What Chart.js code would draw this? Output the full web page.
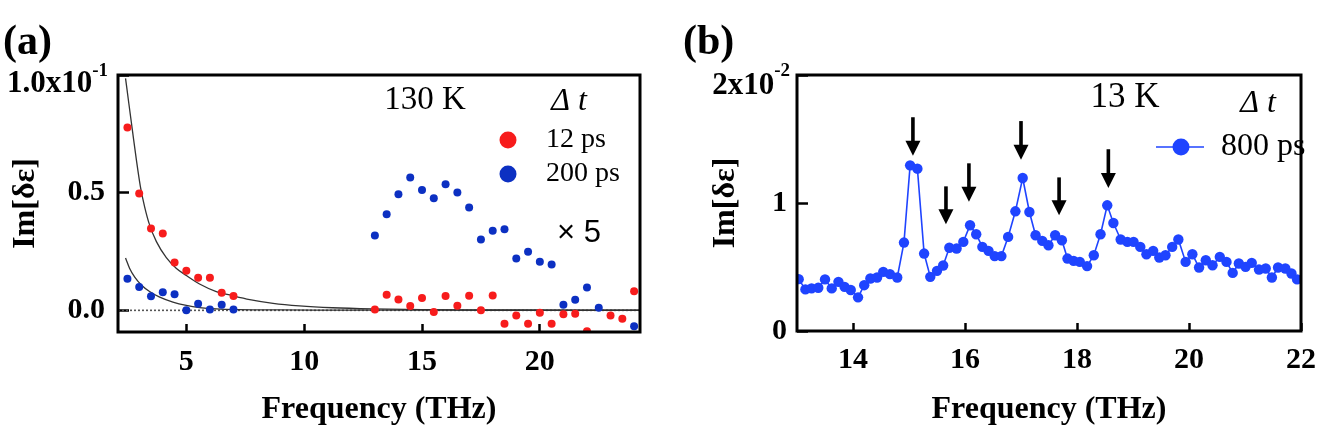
<!DOCTYPE html>
<html>
<head>
<meta charset="utf-8">
<script src="https://cdn.jsdelivr.net/npm/chart.js@4.4.1/dist/chart.umd.min.js"></script>
<style>
html, body { margin: 0; padding: 0; background: #fff; }
#wrap { position: relative; width: 1335px; height: 432px; overflow: hidden; }
.panel { position: absolute; top: 0; height: 432px; }
#pa { left: 0; width: 660px; }
#pb { left: 660px; width: 675px; }
</style>
</head>
<body>
<div id="wrap">
  <div class="panel" id="pa"><canvas id="chartA"></canvas></div>
  <div class="panel" id="pb"><canvas id="chartB"></canvas></div>
</div>
<script>
// ---------- panel (a) : 130 K, units of 1e-1 ----------
const redX = [2.5, 3, 3.5, 4, 4.5, 5, 5.5, 6, 6.5, 7,
  13, 13.5, 14, 14.5, 15, 15.5, 16, 16.5, 17, 17.5, 18, 18.5, 19, 19.5, 20, 20.5, 21, 21.5, 22,
  23, 23.5, 24];
const redY = [0.777, 0.497, 0.348, 0.327, 0.203, 0.168, 0.138, 0.139, 0.075, 0.061,
  0.004, 0.066, 0.046, 0.018, 0.052, -0.007, 0.061, 0.02, 0.062, 0.0, 0.063, -0.057, -0.022, -0.057, -0.01, -0.057, -0.017, -0.014, -0.089,
  -0.022, -0.036, 0.081];

const blueX = [2.5, 3, 3.5, 4, 4.5, 5, 5.5, 6, 6.5, 7,
  13, 13.5, 14, 14.5, 15, 15.5, 16, 16.5, 17, 17.5, 18, 18.5, 19, 19.5, 20, 20.5, 21, 21.5, 22, 22.5,
  24];
const blueY = [0.134, 0.099, 0.060, 0.077, 0.068, 0.0, 0.028, 0.004, 0.024, 0.004,
  0.318, 0.408, 0.493, 0.565, 0.511, 0.476, 0.536, 0.501, 0.437, 0.301, 0.338, 0.345, 0.22, 0.249, 0.206, 0.195, 0.024, 0.045, 0.097, 0.011,
  -0.068];

// fit curves
const fit12X = [2.42, 2.56, 2.71, 2.88, 3.05, 3.23, 3.44, 3.73, 4.15, 4.58, 5.0, 5.56, 6.27, 6.98, 7.69, 8.68, 9.8, 11.2, 12.9, 15, 18, 21, 24.2];
const fit12Y = [0.986, 0.879, 0.766, 0.639, 0.526, 0.44, 0.363, 0.292, 0.224, 0.178, 0.148, 0.112, 0.08, 0.062, 0.046, 0.03, 0.019, 0.011, 0.006, 0.003, 0.002, 0.001, 0.001];
const fit200X = [2.42, 2.59, 2.81, 3.09, 3.44, 3.87, 4.43, 5.0, 5.56, 6.27, 7.2, 8.5, 10.5, 13, 18, 24.2];
const fit200Y = [0.222, 0.179, 0.141, 0.108, 0.08, 0.056, 0.035, 0.021, 0.012, 0.006, 0.003, 0.002, 0.001, 0.001, 0.0005, 0.0005];

const xMinA = 2.1, xMaxA = 24.25;
const yMinA = -0.092, yMaxA = 1.0;
const xTicksA = [5, 10, 15, 20];
const yTicksA = [0, 0.5, 1.0];
const yTickTextA = ['0.0', '0.5', ''];
const topLabelA = ['1.0x10', '-1'];

// ---------- panel (b) : 13 K, units of 1e-2 ----------
const freqB = [13.03, 13.15, 13.26, 13.38, 13.50, 13.62, 13.74, 13.85, 13.96, 14.09,
  14.20, 14.31, 14.43, 14.54, 14.66, 14.79, 14.91, 15.02, 15.15, 15.27,
  15.38, 15.50, 15.61, 15.72, 15.85, 15.97, 16.09, 16.20, 16.31, 16.42,
  16.53, 16.65, 16.77, 16.90, 17.03, 17.15, 17.26, 17.38, 17.49, 17.61,
  17.73, 17.83, 17.94, 18.05, 18.18, 18.30, 18.42, 18.54, 18.65, 18.78,
  18.90, 19.01, 19.13, 19.24, 19.36, 19.47, 19.58, 19.70, 19.81, 19.94,
  20.06, 20.18, 20.30, 20.42, 20.55, 20.67, 20.78, 20.89, 21.01, 21.12,
  21.25, 21.37, 21.48, 21.59, 21.72, 21.83, 21.93];
const im800 = [0.405, 0.325, 0.333, 0.338, 0.403, 0.333, 0.384, 0.345, 0.320, 0.263,
  0.358, 0.410, 0.418, 0.462, 0.444, 0.418, 0.691, 1.294, 1.268, 0.605,
  0.423, 0.470, 0.512, 0.650, 0.644, 0.696, 0.826, 0.756, 0.657, 0.626,
  0.585, 0.585, 0.735, 0.935, 1.195, 0.930, 0.748, 0.704, 0.670, 0.748,
  0.709, 0.566, 0.548, 0.540, 0.507, 0.592, 0.756, 0.982, 0.844, 0.715,
  0.696, 0.696, 0.657, 0.600, 0.626, 0.574, 0.592, 0.657, 0.715, 0.540,
  0.600, 0.496, 0.553, 0.514, 0.579, 0.540, 0.454, 0.527, 0.501, 0.532,
  0.480, 0.488, 0.418, 0.496, 0.488, 0.449, 0.403];

// arrows over the peaks: frequency, top and tip of each arrow
const arrowFreq = [15.07, 15.66, 16.07, 17.0, 17.68, 18.56];
const arrowTop = [1.67, 1.13, 1.31, 1.64, 1.20, 1.42];
const arrowTip = [1.37, 0.834, 1.01, 1.338, 0.904, 1.117];

const xMinB = 13, xMaxB = 22;
const yMinB = 0, yMaxB = 2;
const xTicksB = [14, 16, 18, 20, 22];
const yTicksB = [0, 1, 2];
const yTickTextB = ['0', '1', ''];
const topLabelB = ['2x10', '-2'];

const RED = '#f71c1c';
const BLUE_A = '#0c30c2';
const BLUE_B = '#1f44ff';
const SERIF = '"Liberation Serif", "Times New Roman", serif';

const pts = (xs, ys) => xs.map((x, i) => ({ x: x, y: ys[i] }));

function label(ctx, s, x, y, font, align) {
    ctx.font = font;
    ctx.fillStyle = '#000';
    ctx.textAlign = align || 'left';
    ctx.textBaseline = 'middle';
    ctx.fillText(s, x, y);
}

function dot(ctx, x, y, r, color) {
    ctx.beginPath();
    ctx.arc(x, y, r, 0, Math.PI * 2);
    ctx.fillStyle = color;
    ctx.fill();
}

function arrow(ctx, x, yTop, yTip) {
    const head = 15, hw = 7.5;
    ctx.fillStyle = '#000';
    ctx.fillRect(x - 1.8, yTop, 3.6, yTip - head - yTop + 1);
    ctx.beginPath();
    ctx.moveTo(x - hw, yTip - head);
    ctx.lineTo(x + hw, yTip - head);
    ctx.lineTo(x, yTip);
    ctx.closePath();
    ctx.fill();
}

const frame = {
    id: 'frame',
    afterDraw(chart) {
        const { ctx, chartArea: a } = chart;
        ctx.save();
        ctx.strokeStyle = '#000';
        ctx.lineWidth = 3;
        ctx.strokeRect(a.left, a.top, a.right - a.left, a.bottom - a.top);
        ctx.restore();
    }
};

function axes(xMin, xMax, xTicks, yMin, yMax, yTicks, yText, o) {
    const tickFont = { family: SERIF, size: 30, weight: 'bold' };
    const titleFont = { family: SERIF, size: 32, weight: 'bold' };
    return {
        x: {
            type: 'linear', min: xMin, max: xMax,
            afterBuildTicks: s => { s.ticks = xTicks.map(v => ({ value: v })); },
            afterFit: s => { s.height = o.xh; },
            border: { display: false },
            grid: { drawOnChartArea: false, tickLength: -8, tickWidth: 2.5, tickColor: '#000' },
            ticks: { font: tickFont, color: '#000', padding: o.xpad, maxRotation: 0, autoSkip: false },
            title: { display: true, text: 'Frequency (THz)', font: titleFont, color: '#000', padding: { top: 0, bottom: 3 } }
        },
        y: {
            type: 'linear', min: yMin, max: yMax,
            afterBuildTicks: s => { s.ticks = yTicks.map(v => ({ value: v })); },
            afterFit: s => { s.width = o.yw; },
            border: { display: false },
            grid: { drawOnChartArea: false, tickLength: -11, tickWidth: 2.5, tickColor: '#000' },
            ticks: {
                font: tickFont, color: '#000', padding: o.ypad, autoSkip: false,
                callback: (v, i) => yText[i]
            },
            title: { display: true, text: 'Im[δε]', font: titleFont, color: '#000', padding: { top: o.ytp, bottom: 0 } }
        }
    };
}

// ---------- chart (a) ----------
const notesA = {
    id: 'notesA',
    afterDraw(chart) {
        const ctx = chart.ctx;
        const ty = chart.scales.y.getPixelForValue(yMaxA);
        ctx.save();
        label(ctx, '(a)', 3, 43, 'bold 42px ' + SERIF);
        ctx.font = 'bold 19px ' + SERIF;
        const ew = ctx.measureText(topLabelA[1]).width;
        label(ctx, topLabelA[1], 108, ty - 4, 'bold 19px ' + SERIF, 'right');
        label(ctx, topLabelA[0], 108 - ew, ty + 9, 'bold 31px ' + SERIF, 'right');

        label(ctx, '130 K', 425, 100, '33px ' + SERIF, 'center');
        label(ctx, 'Δ t', 569, 102, 'italic 32px ' + SERIF, 'center');
        dot(ctx, 508, 140, 8.5, RED);
        label(ctx, '12 ps', 546, 140, '28px ' + SERIF);
        dot(ctx, 508, 174, 8.5, BLUE_A);
        label(ctx, '200 ps', 546, 174, '28px ' + SERIF);
        label(ctx, '× 5', 557, 233, '31px "Liberation Sans", Arial, sans-serif');
        ctx.restore();
    }
};

new Chart(document.getElementById('chartA'), {
    type: 'scatter',
    data: {
        datasets: [
            { label: '200 ps', data: pts(blueX, blueY), pointRadius: 4, pointBackgroundColor: BLUE_A, pointBorderWidth: 0 },
            { label: '12 ps', data: pts(redX, redY), pointRadius: 4, pointBackgroundColor: RED, pointBorderWidth: 0 },
            { label: 'fit 12 ps', data: pts(fit12X, fit12Y), showLine: true, pointRadius: 0, borderColor: '#333', borderWidth: 1.3, cubicInterpolationMode: 'monotone' },
            { label: 'fit 200 ps', data: pts(fit200X, fit200Y), showLine: true, pointRadius: 0, borderColor: '#333', borderWidth: 1.3, cubicInterpolationMode: 'monotone' },
            { label: 'zero', data: [{ x: xMinA, y: 0 }, { x: xMaxA, y: 0 }], showLine: true, pointRadius: 0, borderColor: '#555', borderWidth: 1.6, borderDash: [2, 2] }
        ]
    },
    options: {
        responsive: true,
        maintainAspectRatio: false,
        animation: false,
        layout: { padding: { left: 0, top: 75, right: 20, bottom: 0 } },
        plugins: { legend: { display: false }, tooltip: { enabled: false } },
        scales: axes(xMinA, xMaxA, xTicksA, yMinA, yMaxA, yTicksA, yTickTextA,
            { xh: 100, xpad: 20, yw: 118, ypad: 24, ytp: 7 })
    },
    plugins: [frame, notesA]
});

// ---------- chart (b) ----------
const notesB = {
    id: 'notesB',
    afterDraw(chart) {
        const ctx = chart.ctx;
        const xs = chart.scales.x, ys = chart.scales.y;
        const ty = ys.getPixelForValue(yMaxB);
        ctx.save();
        arrowFreq.forEach((f, i) => {
            arrow(ctx, xs.getPixelForValue(f), ys.getPixelForValue(arrowTop[i]), ys.getPixelForValue(arrowTip[i]));
        });
        label(ctx, '(b)', 23, 43, 'bold 42px ' + SERIF);
        ctx.font = 'bold 19px ' + SERIF;
        const ew = ctx.measureText(topLabelB[1]).width;
        label(ctx, topLabelB[1], 130, ty - 4, 'bold 19px ' + SERIF, 'right');
        label(ctx, topLabelB[0], 130 - ew, ty + 11, 'bold 31px ' + SERIF, 'right');

        label(ctx, '13 K', 465, 98, '35px ' + SERIF, 'center');
        label(ctx, 'Δ t', 598, 104, 'italic 32px ' + SERIF, 'center');
        ctx.strokeStyle = BLUE_B;
        ctx.lineWidth = 1.6;
        ctx.beginPath();
        ctx.moveTo(496, 147);
        ctx.lineTo(544, 147);
        ctx.stroke();
        dot(ctx, 521, 147, 8.5, BLUE_B);
        label(ctx, '800 ps', 561, 147, '32px ' + SERIF);
        ctx.restore();
    }
};

new Chart(document.getElementById('chartB'), {
    type: 'scatter',
    data: {
        datasets: [
            {
                label: '800 ps', data: pts(freqB, im800), showLine: true,
                borderColor: BLUE_B, borderWidth: 1.6,
                pointRadius: 5.2, pointBackgroundColor: BLUE_B, pointBorderWidth: 0
            }
        ]
    },
    options: {
        responsive: true,
        maintainAspectRatio: false,
        animation: false,
        layout: { padding: { left: 0, top: 75, right: 15, bottom: 0 } },
        plugins: { legend: { display: false }, tooltip: { enabled: false } },
        scales: axes(xMinB, xMaxB, xTicksB, yMinB, yMaxB, yTicksB, yTickTextB,
            { xh: 101, xpad: 19, yw: 137, ypad: 21, ytp: 47 })
    },
    plugins: [frame, notesB]
});
</script>
</body>
</html>
